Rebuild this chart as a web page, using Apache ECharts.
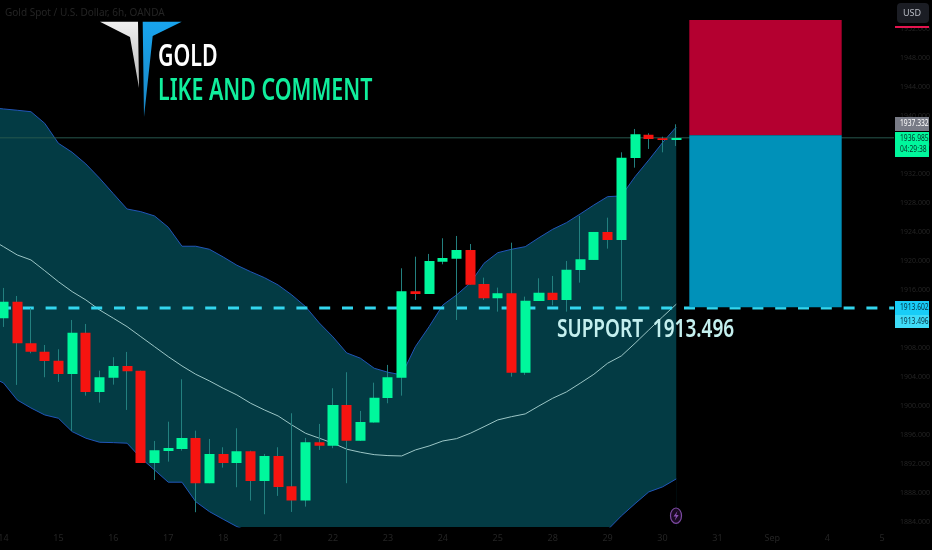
<!DOCTYPE html>
<html>
<head>
<meta charset="utf-8">
<style>html,body{margin:0;padding:0;background:#000;}#c{width:932px;height:550px;}</style>
<script src="https://cdn.jsdelivr.net/npm/echarts@6/dist/echarts.min.js"></script>
</head>
<body>
<div id="c"></div>
<script>
const xLabels = ['14','15','16','17','18','21','22','23','24','25','28','29','30','31','Sep','4','5'];
const yTicks = [1884,1888,1892,1896,1900,1904,1908,1912,1916,1920,1924,1928,1932,1936,1940,1944,1948,1952];
const opens = [1912.10,1914.39,1908.65,1907.49,1906.25,1904.41,1910.11,1901.93,1903.90,1905.52,1904.87,1892.14,1893.79,1894.07,1895.59,1889.34,1893.38,1892.14,1893.75,1889.66,1893.10,1888.92,1886.94,1894.99,1894.52,1900.14,1895.21,1897.70,1901.10,1903.90,1915.82,1915.45,1919.90,1920.32,1921.52,1916.83,1914.86,1915.54,1904.59,1914.48,1915.63,1914.62,1918.76,1920.14,1924.00,1922.90,1934.21,1937.42,1936.92,1936.69];
const closes = [1914.39,1908.65,1907.49,1906.21,1904.41,1910.11,1901.93,1903.96,1905.52,1904.79,1892.14,1893.89,1894.21,1895.59,1889.34,1893.38,1892.14,1893.75,1889.66,1893.10,1888.83,1886.94,1894.99,1894.52,1900.14,1895.21,1897.79,1901.14,1903.96,1915.82,1915.45,1920.00,1920.41,1921.52,1916.73,1914.86,1915.54,1904.59,1914.52,1915.63,1914.62,1918.80,1920.23,1924.00,1922.90,1934.25,1937.48,1936.83,1936.69,1936.98];
const lows = [1910.90,1902.90,1907.27,1903.96,1903.31,1896.55,1901.42,1900.46,1902.94,1899.45,1892.14,1889.79,1892.32,1893.83,1885.34,1889.34,1891.49,1888.79,1886.94,1885.06,1887.59,1885.38,1886.11,1893.93,1894.17,1889.34,1895.17,1897.70,1900.37,1901.42,1914.62,1915.45,1919.54,1911.86,1916.73,1914.62,1913.01,1904.04,1904.28,1914.48,1913.89,1913.01,1917.01,1920.14,1921.70,1914.48,1932.87,1935.45,1934.99,1935.86];
const highs = [1916.28,1915.17,1913.48,1908.41,1907.82,1911.86,1911.31,1904.87,1906.72,1907.45,1904.87,1895.17,1897.83,1903.68,1896.59,1895.45,1894.30,1896.92,1893.83,1893.38,1894.30,1898.99,1895.59,1897.52,1902.44,1904.65,1899.31,1903.21,1905.66,1918.99,1920.59,1920.97,1923.13,1923.45,1922.34,1917.70,1916.32,1922.52,1915.08,1917.61,1917.93,1920.00,1926.21,1924.00,1925.97,1934.99,1938.21,1937.61,1937.14,1938.85];
// the first band value belongs to the left edge of the plot; the rest follow the candles
const upperBand = [1941.02,1940.97,1940.79,1940.59,1938.99,1936.23,1934.99,1933.38,1931.41,1929.28,1927.17,1926.80,1926.21,1924.65,1922.03,1922.03,1921.61,1920.55,1919.41,1918.52,1917.70,1916.69,1915.31,1913.70,1911.45,1909.52,1907.31,1906.58,1905.20,1904.65,1904.28,1908.18,1910.94,1913.93,1915.31,1916.97,1919.68,1921.14,1921.61,1921.97,1923.21,1924.37,1925.28,1926.48,1927.72,1928.87,1928.97,1931.63,1933.93,1936.32,1938.48];
const middleBand = [1922.25,1921.97,1920.83,1920.14,1918.66,1917.14,1915.77,1914.62,1913.24,1912.10,1910.94,1909.56,1908.18,1906.80,1905.52,1904.37,1903.45,1902.44,1901.52,1900.37,1899.45,1898.62,1897.38,1896.23,1895.55,1894.86,1894.03,1893.61,1893.28,1893.15,1893.10,1893.93,1894.48,1895.17,1895.49,1896.23,1897.14,1898.07,1898.52,1898.90,1900.00,1901.06,1901.93,1903.13,1904.37,1905.89,1906.90,1908.65,1910.48,1912.28,1914.03];
const lowerBand = [1903.40,1903.17,1900.83,1899.72,1898.76,1898.30,1896.46,1895.55,1894.99,1894.94,1894.86,1892.83,1891.17,1889.48,1889.48,1886.80,1885.42,1884.37,1883.35,1882.6,1882.0,1881.5,1881.0,1880.6,1880.2,1879.9,1879.7,1879.5,1879.4,1879.3,1879.2,1879.4,1879.7,1880.0,1880.3,1880.5,1880.6,1880.7,1880.8,1881.0,1881.2,1881.4,1881.7,1882.0,1882.4,1882.90,1884.83,1886.52,1888.14,1888.83,1889.93];
const positionBars = [49.95, 61.05];
const stopPrice = 1953.24;
const entryPrice = 1937.332;
const targetPrice = 1913.602;
const lastPrice = 1936.985;
const supportPrice = 1913.496;

const xMin = -0.2549, xMax = 64.86;
const candleData = opens.map((o,i)=>[i,o,closes[i],lows[i],highs[i]]);
const xy = a => a.map((v,i)=>[i===0?xMin:i-1,v]);
const rectSeries = (name,top,bottom,color)=>({
  type:'custom',name,z:6,silent:true,clip:true,
  data:[[positionBars[0],positionBars[1],top,bottom]],
  encode:{x:[0,1],y:[2,3]},
  renderItem(p,api){
    const a=api.coord([api.value(0),api.value(2)]),b=api.coord([api.value(1),api.value(3)]);
    return {type:'rect',shape:{x:a[0],y:a[1],width:b[0]-a[0],height:b[1]-a[1]},style:{fill:color}};
  }
});
const t=(text,x,y,font,fill,extra)=>Object.assign({type:'text',x,y,z:100,silent:true,style:{text,font,fill,textVerticalAlign:'middle'}},extra||{});
const box=(x,y,w,h,fill,r)=>({type:'rect',z:90,silent:true,shape:{x,y,width:w,height:h,r:r||0},style:{fill}});
const poly=(points,fill)=>({type:'polygon',z:95,silent:true,shape:{points},style:{fill}});
const axisFont='"Noto Sans",sans-serif';
const vGrad=(a,b)=>({type:'linear',x:0,y:0,x2:0,y2:1,colorStops:[{offset:0,color:a},{offset:1,color:b}]});

const chart=echarts.init(document.getElementById('c'),null,{renderer:'canvas'});
chart.setOption({
  animation:false,
  backgroundColor:'#000',
  grid:{left:0,top:0,width:894,height:527,containLabel:false,outerBoundsMode:'none'},
  xAxis:{type:'value',min:xMin,max:xMax,axisLine:{show:false},axisTick:{show:false},splitLine:{show:false},
    axisLabel:{customValues:xLabels.map((_,i)=>i*4),formatter:v=>xLabels[Math.round(v/4)],color:'#242424',fontSize:9,margin:7,fontFamily:axisFont,hideOverlap:false}},
  yAxis:{type:'value',position:'right',min:1883.3,max:1956,axisLine:{show:false},axisTick:{show:false},splitLine:{show:false},
    axisLabel:{customValues:yTicks,formatter:v=>v.toFixed(3),color:'#242424',fontSize:7,margin:6,fontFamily:axisFont,hideOverlap:false}},
  series:[
    {type:'line',name:'Upper',data:xy(upperBand),symbol:'none',z:1,lineStyle:{color:'#2156b8',width:1},areaStyle:{color:'#033b44',origin:'start',opacity:1}},
    {type:'line',name:'Lower',data:xy(lowerBand),symbol:'none',z:1,lineStyle:{color:'#2156b8',width:1},areaStyle:{color:'#000',origin:'start',opacity:1}},
    {type:'line',name:'Basis',data:xy(middleBand),symbol:'none',z:2,lineStyle:{color:'#9cc6c6',width:1}},
    {type:'line',name:'Last',data:[[xMin,lastPrice],[xMax,lastPrice]],symbol:'none',z:2,lineStyle:{color:'#27584e',width:1}},
    {type:'line',name:'Support',data:[[xMin,supportPrice],[xMax,supportPrice]],symbol:'none',z:2,lineStyle:{color:'#33d6ee',width:3,type:[11,11.8]}},
    {type:'candlestick',name:'Wicks',data:candleData,z:3,barWidth:1,itemStyle:{color:'#23807f',color0:'#23807f',borderColor:'#23807f',borderColor0:'#23807f',borderWidth:1}},
    {type:'candlestick',name:'Bodies',data:candleData,z:4,barWidth:10.6,itemStyle:{color:'#00f79c',color0:'#f61410',borderWidth:0}},
    rectSeries('Risk',stopPrice,entryPrice,'#b40030'),
    rectSeries('Reward',entryPrice,targetPrice,'#0091b9')
  ],
  graphic:[
    t('Gold Spot / U.S. Dollar, 6h, OANDA',5,13,'10px '+axisFont,'#242424'),
    poly([[100,21.7],[138,21.7],[139,88],[130,37]],vGrad('#f0f0f0','#b8b8b8')),
    poly([[142.7,21.7],[181.7,21.7],[152.7,36],[144,117]],vGrad('#18a4ee','#1b86c4')),
    t('GOLD',158,57,'600 31px '+axisFont,'#fff',{scaleX:.69}),
    t('LIKE AND COMMENT',158,91,'600 31px '+axisFont,'#10ee9c',{scaleX:.69}),
    t('SUPPORT  1913.496',557,330,'600 25px '+axisFont,'#c4efee',{scaleX:.76}),
    box(897,3,32,20,'#1b1d24',4),
    t('USD',903,13,'9px '+axisFont,'#b9bcc4'),
    box(895,26,34,2,'#e3144f'),
    box(895,117,34,14,'#787b86'),
    t('1937.332',900,124,'8px '+axisFont,'#fff',{scaleX:.84}),
    box(895,132,34,25,'#00f79c'),
    t('1936.985',900,139,'8px '+axisFont,'#04342a',{scaleX:.84}),
    t('04:29:38',900,150,'8px '+axisFont,'#04342a',{scaleX:.84}),
    box(895,301,34,14,'#18cdf7'),
    t('1913.602',900,308,'8px '+axisFont,'#053040',{scaleX:.84}),
    box(895,315,34,13,'#3fdcf8'),
    t('1913.496',900,322,'8px '+axisFont,'#053040',{scaleX:.84}),
    {type:'ellipse',z:95,silent:true,shape:{cx:676,cy:515.7,rx:5.5,ry:7.7},style:{fill:'#1a0a22',stroke:'#7d4aa3',lineWidth:1.2}},
    poly([[677.5,511],[673.5,516.5],[676,516.5],[674.7,520.5],[678.7,515],[676.2,515]],'#8a50b3')
  ]
});
</script>
</body>
</html>
